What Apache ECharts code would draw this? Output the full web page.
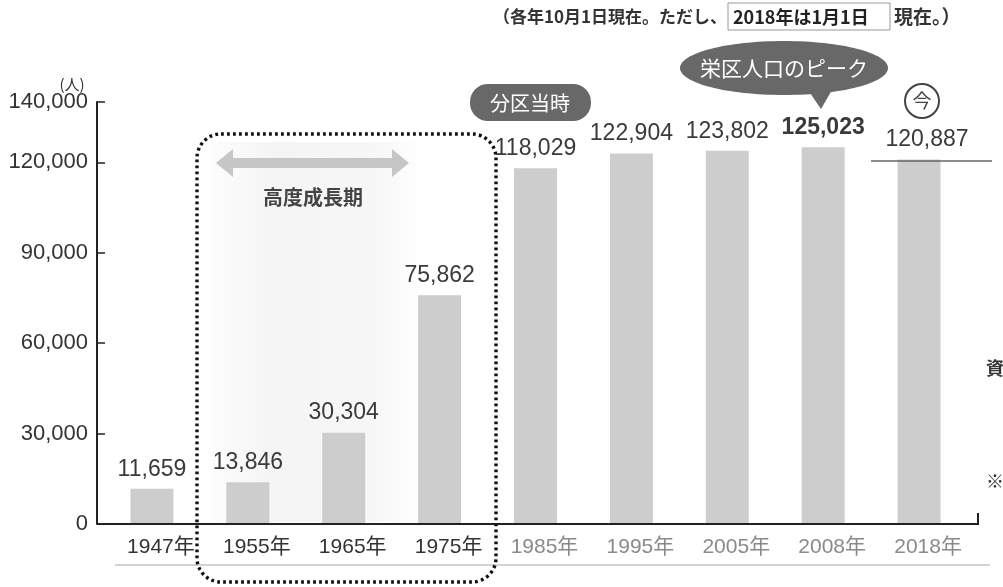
<!DOCTYPE html>
<html lang="ja">
<head>
<meta charset="utf-8">
<title>栄区の人口推移</title>
<script src="https://cdn.jsdelivr.net/npm/echarts@6/dist/echarts.min.js"></script>
<style>
  html, body { margin: 0; padding: 0; background: #fff; }
  #chart { width: 1003px; height: 587px; }
</style>
</head>
<body>
<div id="chart"></div>
<script>
// 年次（カテゴリ）
const years = ['1947年', '1955年', '1965年', '1975年', '1985年', '1995年', '2005年', '2008年', '2018年'];
// 人口（人）
const population = [11659, 13846, 30304, 75862, 118029, 122904, 123802, 125023, 120887];
// 縦軸の目盛り
const yTicks = [0, 30000, 60000, 90000, 120000, 140000];

const peakIndex = 7;     // 2008年：栄区人口のピーク
const latestIndex = 8;   // 2018年：今
const splitIndex = 4;    // 1985年：分区当時

const FONT = '"Liberation Sans", Arial, "Noto Sans CJK JP", sans-serif';
const JP = '"Noto Sans CJK JP", sans-serif';

const fmt = v => String(v).replace(/\B(?=(\d{3})+(?!\d))/g, ',');

const chart = echarts.init(document.getElementById('chart'), null, { renderer: 'canvas' });

const barData = population.map((v, i) => {
  const item = { value: v };
  if (i === peakIndex) item.label = { fontWeight: 'bold' };
  if (i === latestIndex) item.label = { offset: [8, 0] };
  return item;
});

const option = {
  backgroundColor: '#ffffff',
  animation: false,
  grid: { left: 104, right: 36, top: 102, bottom: 63, containLabel: false },
  xAxis: {
    type: 'category',
    data: years,
    axisLine: { show: false },
    axisTick: { show: false },
    axisLabel: {
      margin: 13,
      fontSize: 21,
      fontFamily: FONT,
      padding: [0, 0, 0, 18],
      color: (val, idx) => idx < splitIndex ? '#333333' : '#8a8a8a'
    }
  },
  yAxis: {
    type: 'value',
    min: 0,
    max: yTicks[yTicks.length - 1],
    interval: 30000,
    offset: 7,
    splitLine: { show: false },
    axisLine: { show: true, lineStyle: { color: '#222', width: 2 } },
    axisTick: { show: true, inside: true, length: 8, lineStyle: { color: '#222', width: 1.5 } },
    axisLabel: {
      margin: 9,
      fontSize: 22,
      fontFamily: FONT,
      color: '#333',
      padding: [10, 0, 0, 0],
      formatter: v => yTicks.includes(v) ? fmt(v) : ''
    }
  },
  series: [{
    type: 'bar',
    data: barData,
    barWidth: 43,
    itemStyle: { color: '#cdcdcd' },
    label: {
      show: true,
      position: 'top',
      distance: 8,
      fontSize: 23,
      fontFamily: FONT,
      color: '#3a3a3a',
      formatter: p => fmt(p.value)
    },
    z: 3
  }],
  graphic: [
    // 高度成長期の淡い背景
    { type: 'rect', shape: { x: 212, y: 142, width: 210, height: 380 },
      style: { fill: new echarts.graphic.LinearGradient(0, 0, 1, 0, [
        { offset: 0, color: 'rgba(242,242,242,0.2)' },
        { offset: 0.3, color: 'rgba(242,242,242,0.8)' },
        { offset: 0.8, color: 'rgba(242,242,242,0.6)' },
        { offset: 1, color: 'rgba(242,242,242,0)' }
      ]) }, z: 0, silent: true },
    // x軸線と右端の目盛り
    { type: 'polyline', shape: { points: [[97, 524], [978, 524], [978, 513]] }, style: { stroke: '#222', lineWidth: 2, fill: null }, z: 10 },
    // 年ラベル下の線
    { type: 'line', shape: { x1: 115, y1: 565, x2: 990, y2: 565 }, style: { stroke: '#a8a8a8', lineWidth: 1.2 }, z: 10 },
    // 高度成長期の点線枠
    { type: 'rect', shape: { x: 197, y: 134, width: 299, height: 448, r: 24 },
      style: { fill: null, stroke: '#111', lineWidth: 3.4, lineDash: [2.8, 3.2] }, z: 20 },
    // 両矢印
    { type: 'polygon', shape: { points: [[216, 163], [233, 149], [233, 158], [392, 158], [392, 149], [409, 163], [392, 177], [392, 168], [233, 168], [233, 177]] },
      style: { fill: '#c6c6c6' }, z: 15 },
    { type: 'text', x: 313, y: 197, style: { text: '高度成長期', font: 'bold 20px ' + JP, fill: '#444', align: 'center', verticalAlign: 'middle' }, z: 15 },
    // 分区当時
    { type: 'rect', shape: { x: 470, y: 84, width: 121, height: 37, r: 18 }, style: { fill: '#686868' }, z: 15 },
    { type: 'text', x: 530, y: 103, style: { text: '分区当時', font: '20px ' + JP, fill: '#fff', align: 'center', verticalAlign: 'middle' }, z: 16 },
    // 栄区人口のピーク
    { type: 'ellipse', shape: { cx: 784, cy: 68, rx: 104, ry: 27 }, style: { fill: '#686868' }, z: 15 },
    { type: 'polygon', shape: { points: [[808, 90], [832, 90], [821, 109]] }, style: { fill: '#686868' }, z: 15 },
    { type: 'text', x: 784, y: 68, style: { text: '栄区人口のピーク', font: '21px ' + JP, fill: '#fff', align: 'center', verticalAlign: 'middle' }, z: 16 },
    // 今
    { type: 'circle', shape: { cx: 922, cy: 101, r: 17 }, style: { fill: '#fff', stroke: '#444', lineWidth: 2 }, z: 15 },
    { type: 'text', x: 922, y: 101, style: { text: '今', font: '19px ' + JP, fill: '#444', align: 'center', verticalAlign: 'middle' }, z: 16 },
    // 2018年の値の下線
    { type: 'line', shape: { x1: 871, y1: 161, x2: 992, y2: 161 }, style: { stroke: '#666', lineWidth: 1.5 }, z: 15 },
    // 単位
    { type: 'text', x: 72, y: 84, style: { text: '(人)', font: '15px ' + JP, fill: '#333', align: 'center', verticalAlign: 'middle' }, z: 15 },
    // 注記
    { type: 'text', x: 727, y: 17, style: { text: '（各年10月1日現在。ただし、', font: 'bold 17px ' + JP, fill: '#333', align: 'right', verticalAlign: 'middle' }, z: 15 },
    { type: 'rect', shape: { x: 728, y: 3, width: 162, height: 27 }, style: { fill: '#fff', stroke: '#999', lineWidth: 1 }, z: 14 },
    { type: 'text', x: 733, y: 17, style: { text: '2018年は1月1日', font: 'bold 18px ' + JP, fill: '#222', align: 'left', verticalAlign: 'middle' }, z: 15 },
    { type: 'text', x: 894, y: 17, style: { text: '現在。）', font: 'bold 19px ' + JP, fill: '#333', align: 'left', verticalAlign: 'middle' }, z: 15 },
    // 右端の隣接記事
    { type: 'text', x: 986, y: 368, style: { text: '資', font: 'bold 18px ' + JP, fill: '#333', align: 'left', verticalAlign: 'middle' }, z: 15 },
    { type: 'text', x: 986, y: 481, style: { text: '※', font: 'bold 18px ' + JP, fill: '#333', align: 'left', verticalAlign: 'middle' }, z: 15 }
  ]
};

chart.setOption(option);
</script>
</body>
</html>
